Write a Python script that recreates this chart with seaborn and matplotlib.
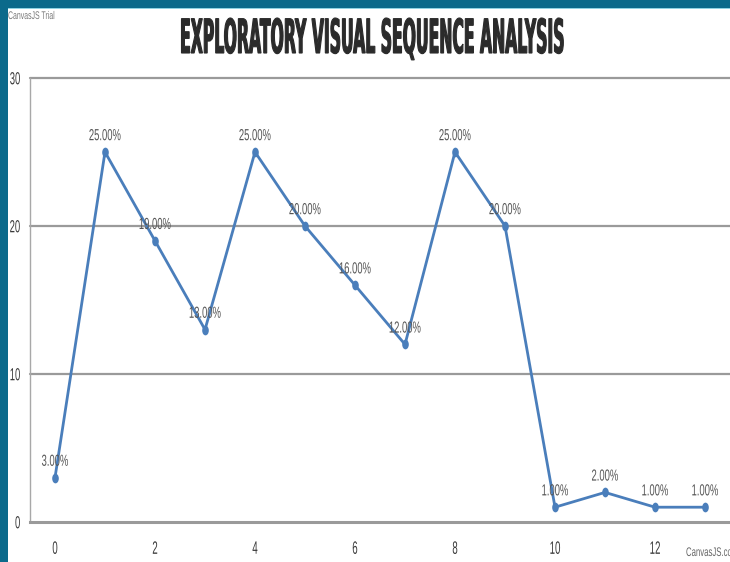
import matplotlib
matplotlib.use("Agg")
import matplotlib.pyplot as plt
import matplotlib.patches as mpatches
from matplotlib.path import Path
from matplotlib.patheffects import AbstractPathEffect
from matplotlib.transforms import Affine2D
import seaborn as sns
import pandas as pd

# ---- data ----
steps = [0, 1, 2, 3, 4, 5, 6, 7, 8, 9, 10, 11, 12, 13]
shares = [3, 25, 19, 13, 25, 20, 16, 12, 25, 20, 1, 2, 1, 1]
x_ticks = [0, 2, 4, 6, 8, 10, 12]
y_ticks = [0, 10, 20, 30]
title_text = "EXPLORATORY VISUAL SEQUENCE ANALYSIS"

LINE_COLOR = "#4a7ebb"
GRID_COLOR = "#9a9a9a"


class Tall(AbstractPathEffect):
    """Draw text glyphs stretched vertically (narrow, condensed look)."""

    def __init__(self, sy=1.0, anchor="base", cap=None, stroke=0.0):
        super().__init__()
        self.sy = sy
        self.anchor = anchor
        self.cap = cap
        self.stroke = stroke

    def draw_path(self, renderer, gc, tpath, affine, rgbFace=None):
        base = affine.transform_point((0, 0))[1]
        ext = tpath.get_extents(affine)
        sy = self.sy
        if self.cap is not None and ext.y1 > base:
            sy = self.cap / (ext.y1 - base)
        if self.anchor == "center":
            cy = 0.5 * (ext.y0 + ext.y1)
        elif self.anchor == "top":
            cy = ext.y1
        else:
            cy = base
        aff = affine + Affine2D().translate(0, -cy).scale(1, sy).translate(0, cy)
        if self.stroke > 0 and rgbFace is not None:
            gc2 = renderer.new_gc()
            gc2.copy_properties(gc)
            gc2.set_linewidth(self.stroke)
            gc2.set_foreground(rgbFace)
            gc2.set_joinstyle("miter")
            gc = gc2
        renderer.draw_path(gc, tpath, aff, rgbFace)


sns.set_style("white")
plt.rcParams["font.family"] = ["Liberation Sans", "DejaVu Sans"]

W, H = 730, 562
fig = plt.figure(figsize=(W / 100, H / 100), dpi=100)
fig.patch.set_facecolor("#0b6a8b")

# white panel inside the blue frame
fig.patches.append(mpatches.Rectangle((8 / W, 0), 1, (H - 9) / H,
                                      transform=fig.transFigure,
                                      facecolor="white", edgecolor="none", zorder=-2))
fig.patches.append(mpatches.Rectangle((8 / W, (H - 9) / H), 1, 1.2 / H,
                                      transform=fig.transFigure,
                                      facecolor="#8fd3e3", edgecolor="none", zorder=-1))

left, right = 30 / W, 1.0
bottom, top = (H - 522) / H, (H - 78) / H
ax = fig.add_axes([left, bottom, right - left, top - bottom])
ax.patch.set_alpha(0)

# slightly oval point marker
oval = Path.unit_circle().transformed(Affine2D().scale(0.68, 1.0))

df = pd.DataFrame({"step": steps, "share": shares})
sns.lineplot(data=df, x="step", y="share", ax=ax, color=LINE_COLOR,
             linewidth=2.0, marker=oval, markersize=7.0, markeredgewidth=0,
             zorder=3, clip_on=False)

ax.set_xlim(-0.5, 13.5)
ax.set_ylim(0, 30)
ax.set_xticks(x_ticks)
ax.set_yticks(y_ticks)
ax.set_xlabel("")
ax.set_ylabel("")

# gridlines
for yv in y_ticks[1:]:
    ax.axhline(yv, color=GRID_COLOR, linewidth=1.6, zorder=1, clip_on=False)

for side in ("top", "right"):
    ax.spines[side].set_visible(False)
ax.spines["left"].set_color("#a8a8a8")
ax.spines["left"].set_linewidth(1.0)
ax.spines["bottom"].set_color("#9a9a9a")
ax.spines["bottom"].set_linewidth(2.2)

ax.tick_params(axis="y", length=4.5, width=1.4, color=GRID_COLOR, pad=2.5,
               labelsize=6.8, labelcolor="#3a3a3a")
ax.tick_params(axis="x", length=4, width=0.8, color="#aaaaaa", pad=9,
               labelsize=7.0, labelcolor="#3a3a3a")

for lab in ax.get_yticklabels():
    lab.set_path_effects([Tall(1.85, anchor="center")])
for lab in ax.get_xticklabels():
    lab.set_path_effects([Tall(1.85, anchor="top")])

# value labels above each point
for xv, yv in zip(steps, shares):
    ax.annotate(f"{yv:.2f}%", (xv, yv), xytext=(0, 8.5), textcoords="offset points",
                ha="center", va="baseline", fontsize=6.8, color="#555555",
                zorder=4, annotation_clip=False,
                path_effects=[Tall(1.7)])

# title: sized to its printed width, then drawn tall and heavy
title = fig.text(372 / W, (H - 53) / H, title_text, ha="center", va="baseline",
                 fontsize=12, fontweight="bold", color="#2b2b2b",
                 family=["DejaVu Sans"])
renderer = fig.canvas.get_renderer()
tw = title.get_window_extent(renderer).width
title.set_fontsize(12 * 384 / tw)
title.set_path_effects([Tall(cap=35, stroke=0.8)])

# watermark credits
fig.text(8 / W, (H - 19) / H, "CanvasJS Trial", ha="left", va="baseline",
         fontsize=5.0, color="#7a7a7a", path_effects=[Tall(1.6)])
fig.text(686 / W, (H - 556) / H, "CanvasJS.com", ha="left", va="baseline",
         fontsize=5.6, color="#666666", path_effects=[Tall(1.6)])

fig.savefig("out.png", dpi=100, facecolor=fig.get_facecolor())
